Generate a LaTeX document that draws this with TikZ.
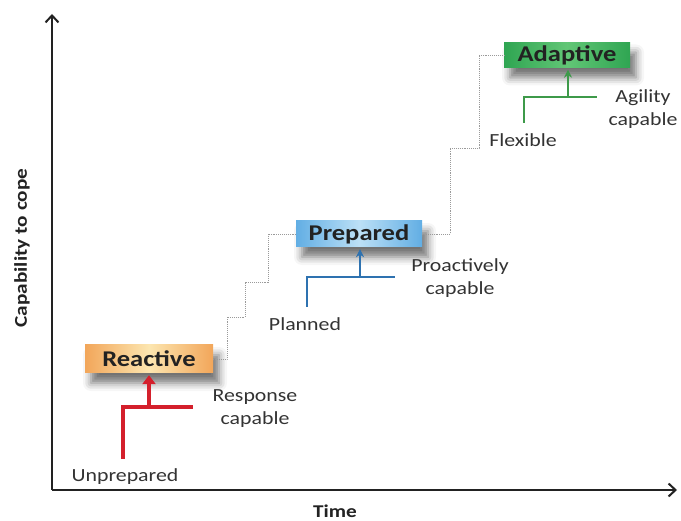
\documentclass[tikz,border=0pt]{standalone}
\usepackage{fontspec}
\setmainfont{Carlito}[FakeStretch=1.18]
\usetikzlibrary{arrows.meta,shadows.blur}
\definecolor{ink}{HTML}{333333}
\definecolor{axiscol}{HTML}{222222}
\definecolor{stepgray}{HTML}{9A9A9A}
\definecolor{redln}{HTML}{D4202C}
\definecolor{blueln}{HTML}{2E72B0}
\definecolor{greenln}{HTML}{3E9A4A}
\definecolor{orgedge}{HTML}{F2A65A}
\definecolor{orgmid}{HTML}{FCE6B0}
\definecolor{bluedge}{HTML}{62AEE4}
\definecolor{blumid}{HTML}{BCE0F6}
\definecolor{grnedge}{HTML}{2FA552}
\definecolor{grnmid}{HTML}{62C676}
\begin{document}
\begin{tikzpicture}[x=1pt,y=-1pt,
  stage/.style={inner sep=0pt, minimum height=27pt, minimum width=126pt,
    font=\bfseries\fontsize{22.5}{26}\selectfont, text=axiscol,
    blur shadow={shadow xshift=6pt, shadow yshift=-10pt, shadow blur radius=8pt, shadow opacity=55}},
  lbl/.style={font=\fontsize{18.5}{23}\selectfont, text=ink, align=center, inner sep=0pt},
  axis/.style={line width=2pt, draw=axiscol, -{Straight Barb[length=7pt,width=13pt,line width=2pt]}},
  stair/.style={draw=stepgray, densely dotted, line width=0.9pt},
  axislbl/.style={font=\bfseries\fontsize{18}{21}\selectfont, text=axiscol, inner sep=0pt}
]
\useasboundingbox (0,0) rectangle (681,521);

% axes
\coordinate (origin) at (52,490);
\coordinate (ytop) at (52,14);
\coordinate (xend) at (677,490);
\draw[axis] (origin) -- (ytop);
\draw[axis] (origin) -- (xend);
\node[axislbl, rotate=90] (ylab) at (22,248) {Capability to cope};
\node[axislbl] (xlab) at (335,511) {Time};

% stage boxes
\node[stage, left color=orgedge, right color=orgedge, middle color=orgmid, minimum width=128pt, minimum height=28pt] (reactive) at (149,359) {Reactive};
\node[stage, left color=bluedge, right color=bluedge, middle color=blumid, minimum height=26pt] (prepared) at (359,234) {Prepared};
\node[stage, left color=grnedge, right color=grnedge, middle color=grnmid, minimum height=25pt] (adaptive) at (567,55) {Adaptive};

% staircase between stages
\draw[stair] (reactive.east) -- (227,359) -- (227,317) -- (245,317) -- (245,282)
  -- (268,282) -- (268,234) -- (prepared.west);
\draw[stair] (prepared.east) -- (450,234) -- (450,148) -- (479,148) -- (479,55)
  -- (adaptive.west);

% red: unprepared -> reactive
\coordinate (r0) at (123,459);
\coordinate (r1) at (123,407);
\coordinate (r2) at (193,407);
\coordinate (rm) at (149,407);
\draw[redln, line width=4pt] (r0) -- (r1) -- (r2);
\draw[redln, line width=4pt, -{Triangle[length=9pt,width=13pt]}] (rm) -- ([yshift=-2pt]reactive.south);

% blue: planned -> prepared
\coordinate (b0) at (307,307);
\coordinate (b1) at (307,277);
\coordinate (b2) at (395,277);
\coordinate (bm) at (360,277);
\draw[blueln, line width=1.4pt] (b0) -- (b1) -- (b2);
\draw[blueln, line width=1.4pt, -{Stealth[length=8pt,width=8pt]}] (bm) -- ([xshift=1pt,yshift=-2pt]prepared.south);

% green: flexible -> adaptive
\coordinate (g0) at (524,123);
\coordinate (g1) at (524,97);
\coordinate (g2) at (597,97);
\coordinate (gm) at (568,97);
\draw[greenln, line width=1.4pt] (g0) -- (g1) -- (g2);
\draw[greenln, line width=1.4pt, -{Stealth[length=8pt,width=8pt]}] (gm) -- ([xshift=1pt,yshift=-2pt]adaptive.south);

% labels
\node[lbl] (unprep) at (125,477) {Unprepared};
\node[lbl] (resp) at (255,409) {Response\\capable};
\node[lbl] (planned) at (305,324) {Planned};
\node[lbl] (proact) at (460,278) {Proactively\\capable};
\node[lbl] (flex) at (523,140) {Flexible};
\node[lbl] (agile) at (643,109) {Agility\\capable};
\end{tikzpicture}
\end{document}
